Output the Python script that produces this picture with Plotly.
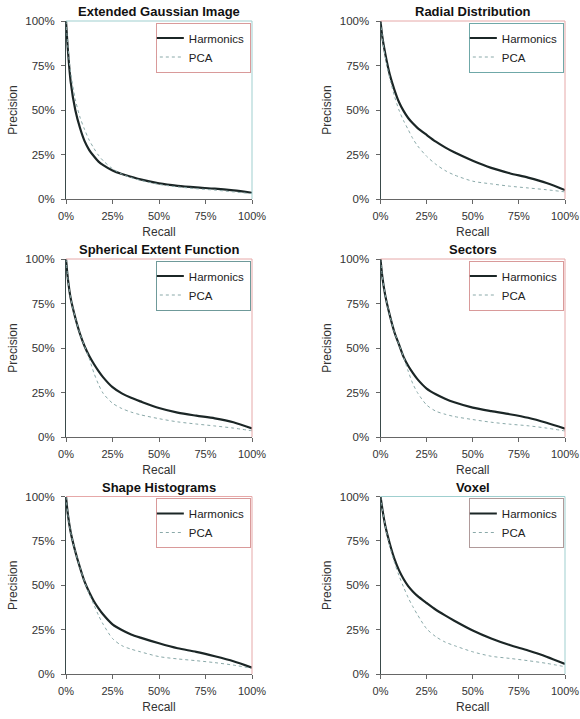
import plotly.graph_objects as go

# ---------------- data ----------------
recall = [0, 0.01, 0.025, 0.05, 0.075, 0.1, 0.125, 0.15, 0.175, 0.2, 0.25, 0.3, 0.35, 0.4,
          0.5, 0.6, 0.7, 0.8, 0.9, 1.0]

titles = ["Extended Gaussian Image", "Radial Distribution", "Spherical Extent Function",
          "Sectors", "Shape Histograms", "Voxel"]
series_names = ["Harmonics", "PCA"]

egi_harm = [1.0, 0.84, 0.66, 0.50, 0.40, 0.325, 0.275, 0.24, 0.21, 0.19, 0.16, 0.14, 0.125, 0.11,
            0.088, 0.074, 0.065, 0.058, 0.048, 0.035]
egi_pca = [1.0, 0.86, 0.71, 0.56, 0.46, 0.39, 0.33, 0.285, 0.245, 0.215, 0.17, 0.14, 0.12, 0.105,
           0.082, 0.068, 0.058, 0.05, 0.04, 0.03]

rad_harm = [1.0, 0.91, 0.82, 0.70, 0.615, 0.545, 0.495, 0.455, 0.425, 0.40, 0.36, 0.322, 0.29, 0.262,
            0.215, 0.175, 0.145, 0.12, 0.09, 0.05]
rad_pca = [1.0, 0.91, 0.80, 0.68, 0.58, 0.50, 0.44, 0.39, 0.34, 0.30, 0.24, 0.195, 0.16, 0.135,
           0.10, 0.085, 0.072, 0.062, 0.052, 0.04]

sef_harm = [1.0, 0.89, 0.78, 0.67, 0.58, 0.51, 0.455, 0.41, 0.37, 0.335, 0.28, 0.245, 0.22, 0.20,
            0.163, 0.137, 0.12, 0.105, 0.083, 0.048]
sef_pca = [1.0, 0.89, 0.78, 0.67, 0.58, 0.51, 0.44, 0.36, 0.295, 0.245, 0.19, 0.16, 0.14, 0.125,
           0.103, 0.085, 0.073, 0.062, 0.05, 0.035]

sec_harm = [1.0, 0.90, 0.80, 0.685, 0.59, 0.52, 0.45, 0.40, 0.36, 0.325, 0.272, 0.24, 0.215, 0.195,
            0.165, 0.145, 0.128, 0.108, 0.08, 0.047]
sec_pca = [1.0, 0.90, 0.80, 0.685, 0.59, 0.52, 0.45, 0.37, 0.30, 0.25, 0.18, 0.145, 0.128, 0.115,
           0.098, 0.083, 0.072, 0.063, 0.05, 0.034]

sh_harm = [1.0, 0.90, 0.80, 0.69, 0.60, 0.52, 0.46, 0.41, 0.37, 0.335, 0.28, 0.248, 0.223, 0.205,
           0.173, 0.145, 0.125, 0.10, 0.072, 0.036]
sh_pca = [1.0, 0.90, 0.80, 0.69, 0.60, 0.52, 0.45, 0.39, 0.33, 0.28, 0.20, 0.16, 0.14, 0.125,
          0.098, 0.085, 0.075, 0.064, 0.05, 0.032]

vox_harm = [1.0, 0.93, 0.84, 0.735, 0.65, 0.585, 0.535, 0.495, 0.465, 0.44, 0.40, 0.362, 0.33, 0.30,
            0.245, 0.20, 0.163, 0.132, 0.097, 0.056]
vox_pca = [1.0, 0.93, 0.84, 0.72, 0.63, 0.555, 0.49, 0.43, 0.38, 0.335, 0.255, 0.21, 0.18, 0.16,
           0.125, 0.10, 0.088, 0.075, 0.06, 0.041]

harm_series = [egi_harm, rad_harm, sef_harm, sec_harm, sh_harm, vox_harm]
pca_series = [egi_pca, rad_pca, sef_pca, sec_pca, sh_pca, vox_pca]

tick_vals = [0, 0.25, 0.5, 0.75, 1.0]
tick_labels = ["0%", "25%", "50%", "75%", "100%"]

# ---------------- styling / layout ----------------
W, H = 580, 719
FONT = "Liberation Sans, Arial, sans-serif"
col_px = [(66, 252), (380.5, 565)]
row_px = [(21, 199), (259, 437), (496.5, 674)]
frame_colors = ["#9fcfcf", "#e6a8a8", "#e6a8a8", "#e6a8a8", "#e6a8a8", "#9fcfcf"]
legend_border = ["#d99a9a", "#6fa8a8", "#6f9a9a", "#d99a9a", "#d99a9a", "#b09a9a"]
harm_color = "#1b2626"
pca_color = "#8aa9a9"

fig = go.Figure()
layout = dict(width=W, height=H, margin=dict(l=0, r=0, t=0, b=0, autoexpand=False),
              plot_bgcolor="white", paper_bgcolor="white",
              font=dict(family=FONT, size=11, color="#333333"),
              shapes=[], annotations=[])

for i in range(6):
    r, c = divmod(i, 2)
    n = "" if i == 0 else str(i + 1)
    xd = [col_px[c][0] / W, col_px[c][1] / W]
    yd = [1 - row_px[r][1] / H, 1 - row_px[r][0] / H]
    leg = "legend" if i == 0 else f"legend{i + 1}"

    fig.add_trace(go.Scatter(x=recall, y=harm_series[i], mode="lines", name=series_names[0],
                             line=dict(color=harm_color, width=2.2, shape="spline", smoothing=0.8),
                             xaxis="x" + n, yaxis="y" + n, legend=leg))
    fig.add_trace(go.Scatter(x=recall, y=pca_series[i], mode="lines", name=series_names[1],
                             line=dict(color=pca_color, width=1, dash="dot", shape="spline", smoothing=0.8),
                             xaxis="x" + n, yaxis="y" + n, legend=leg))

    layout["xaxis" + n] = dict(domain=xd, anchor="y" + n, range=[0, 1], tickvals=tick_vals,
                               ticktext=tick_labels, ticks="outside", ticklen=4, tickcolor="#666",
                               showline=True, linecolor="#666", linewidth=1, showgrid=False,
                               zeroline=False, ticklabelstandoff=3, automargin=False,
                               ticklabeloverflow="allow",
                               tickfont=dict(size=11),
                               title=dict(text="Recall", standoff=6, font=dict(size=12, color="#333")))
    layout["yaxis" + n] = dict(domain=yd, anchor="x" + n, range=[0, 1], tickvals=tick_vals,
                               ticktext=tick_labels, ticks="outside", ticklen=4, tickcolor="#666",
                               showline=True, linecolor="#3a4a4a", linewidth=1, showgrid=False,
                               zeroline=False, ticklabelstandoff=4, automargin=False,
                               ticklabeloverflow="allow",
                               tickfont=dict(size=11.5),
                               title=dict(text="Precision", standoff=5, font=dict(size=12, color="#333")))
    layout[leg] = dict(x=col_px[c][1] / W - 0.002, xanchor="right", y=1 - (row_px[r][0] + 1.5) / H,
                       yanchor="top", bgcolor="white", bordercolor=legend_border[i], borderwidth=1,
                       font=dict(size=11.5, color="#222"), tracegroupgap=0, itemwidth=30,
                       indentation=-8)
    # top and right frame lines
    layout["shapes"].append(dict(type="line", xref=f"x{n} domain", yref=f"y{n} domain",
                                 x0=0, x1=1, y0=1, y1=1, line=dict(color=frame_colors[i], width=1)))
    layout["shapes"].append(dict(type="line", xref=f"x{n} domain", yref=f"y{n} domain",
                                 x0=1, x1=1, y0=0, y1=1, line=dict(color=frame_colors[i], width=1)))
    layout["annotations"].append(dict(text="<b>" + titles[i] + "</b>", xref=f"x{n} domain",
                                      yref=f"y{n} domain", x=0.5, y=1, xanchor="center",
                                      yanchor="bottom", yshift=0, showarrow=False,
                                      font=dict(size=13, color="#111")))

fig.update_layout(**layout)
fig.write_html("out.html", config={"displayModeBar": False},
               post_script="document.body.style.margin='0';document.body.style.overflow='hidden';")
